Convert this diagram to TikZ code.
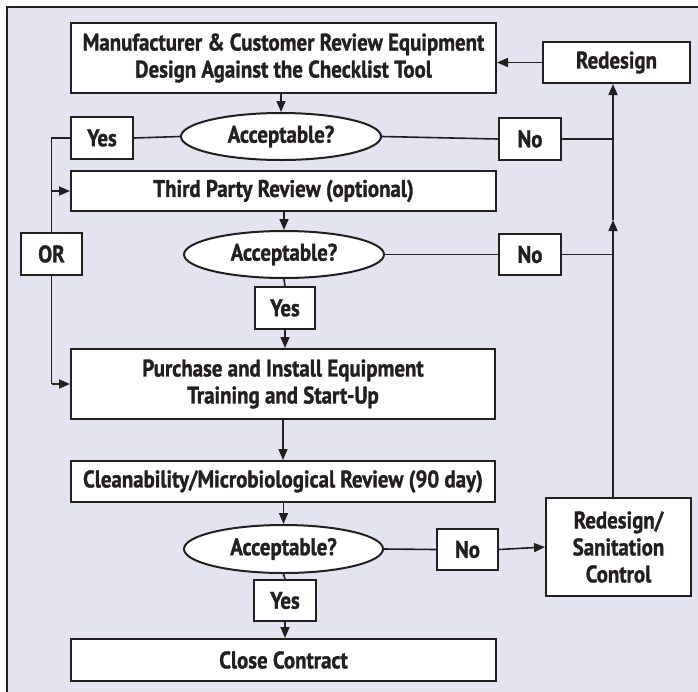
\documentclass[tikz,border=0pt]{standalone}
\usepackage{fontspec}
\setmainfont{PT Sans}[FakeStretch=0.87,BoldFeatures={FakeBold=1.2}]
\usetikzlibrary{arrows.meta,shapes.geometric}
\definecolor{bg}{RGB}{228,228,241}
\definecolor{ink}{RGB}{35,31,32}
\begin{document}
\begin{tikzpicture}[x=1pt,y=-1pt,
  txt/.style={text=ink,font=\fontsize{24}{27}\selectfont\bfseries},
  box/.style={txt,draw=ink,line width=2pt,fill=white,inner sep=0pt,align=center},
  oval/.style={txt,ellipse,draw=ink,line width=2pt,fill=white,inner sep=0pt},
  conn/.style={draw=ink,line width=1.6pt},
  arr/.style={conn,-{Triangle[length=11pt,width=9pt]}}]
\useasboundingbox (0,0) rectangle (698,691);
\fill[white] (0,0) rectangle (698,691);
\fill[bg] (7,7) rectangle (700,693);
\draw[ink,line width=1.5pt] (7,700) -- (7,7) -- (705,7);

% nodes
\node[box,minimum width=425,minimum height=70] (mfr) at (283.5,58) {Manufacturer \& Customer Review Equipment\\Design Against the Checklist Tool};
\node[box,minimum width=147,minimum height=41] (rd) at (616.5,62.5) {Redesign};
\node[oval,minimum width=200,minimum height=47] (acc1) at (281,136.5) {Acceptable?};
\node[box,minimum width=62,minimum height=42] (yes1) at (102,138) {Yes};
\node[box,minimum width=62,minimum height=42] (no1) at (530,139) {No};
\node[box,minimum width=425,minimum height=40] (third) at (283.5,191) {Third Party Review (optional)};
\node[box,minimum width=61,minimum height=42] (or) at (51.5,254) {OR};
\node[oval,minimum width=200,minimum height=47] (acc2) at (284,254.5) {Acceptable?};
\node[box,minimum width=62,minimum height=41] (no2) at (530,254.5) {No};
\node[box,minimum width=60,minimum height=42] (yes2) at (285,308) {Yes};
\node[box,minimum width=424,minimum height=70] (buy) at (283,384) {Purchase and Install Equipment\\Training and Start-Up};
\node[box,minimum width=424,minimum height=41] (clean) at (283,481.5) {Cleanability/Microbiological Review (90 day)};
\node[oval,minimum width=199,minimum height=48] (acc3) at (283.5,549) {Acceptable?};
\node[box,minimum width=62,minimum height=41] (yes3) at (285,600.5) {Yes};
\node[box,minimum width=425,minimum height=42] (close) at (283.5,660) {Close Contract};
\node[box,minimum width=61,minimum height=41] (no3) at (467.5,549.5) {No};
\node[box,minimum width=145,minimum height=98] (rs) at (618.5,547) {Redesign/\\Sanitation\\Control};

\coordinate (jr1) at (613,139);
\coordinate (jr2) at (613,254.5);
\coordinate (midup) at (613,220);
\coordinate (jl1) at (51.5,138);
\coordinate (jl2) at (51.5,384);

% main column
\draw[arr] (mfr.south -| acc1.north) -- (acc1.north);
\draw[arr] (rd.west) -- (rd.west -| mfr.east);
\draw[arr] (third.south -| acc2.north) -- (acc2.north);
\draw[conn] (acc2.south) -- (yes2.north);
\draw[arr] (yes2.south) -- (yes2.south |- buy.north);
\draw[arr] (buy.south -| clean.north) -- (clean.north);
\draw[arr] (clean.south -| acc3.north) -- (acc3.north);
\draw[conn] (acc3.south) -- (yes3.north);
\draw[arr] (yes3.south) -- (yes3.south |- close.north);

% yes / or branch on the left
\draw[conn] (acc1.west) -- (yes1.east);
\draw[conn] (yes1.west) -- (jl1) -- (or.north);
\draw[arr] (jl1 |- third.west) -- (third.west);
\draw[conn] (or.south) -- (jl2);
\draw[arr] (jl2) -- (buy.west);

% no branches on the right
\draw[conn] (acc1.east) -- (no1.west);
\draw[conn] (no1.east) -- (jr1);
\draw[conn] (acc2.east) -- (no2.west);
\draw[conn] (no2.east) -- (jr2);
\draw[conn] (acc3.east) -- (no3.west);
\draw[arr] (no3.east) -- (rs.west);
\draw[arr] (jr1 |- rs.north) -- (midup);
\draw[arr] (midup) -- (jr1 |- rd.south);
\end{tikzpicture}
\end{document}
